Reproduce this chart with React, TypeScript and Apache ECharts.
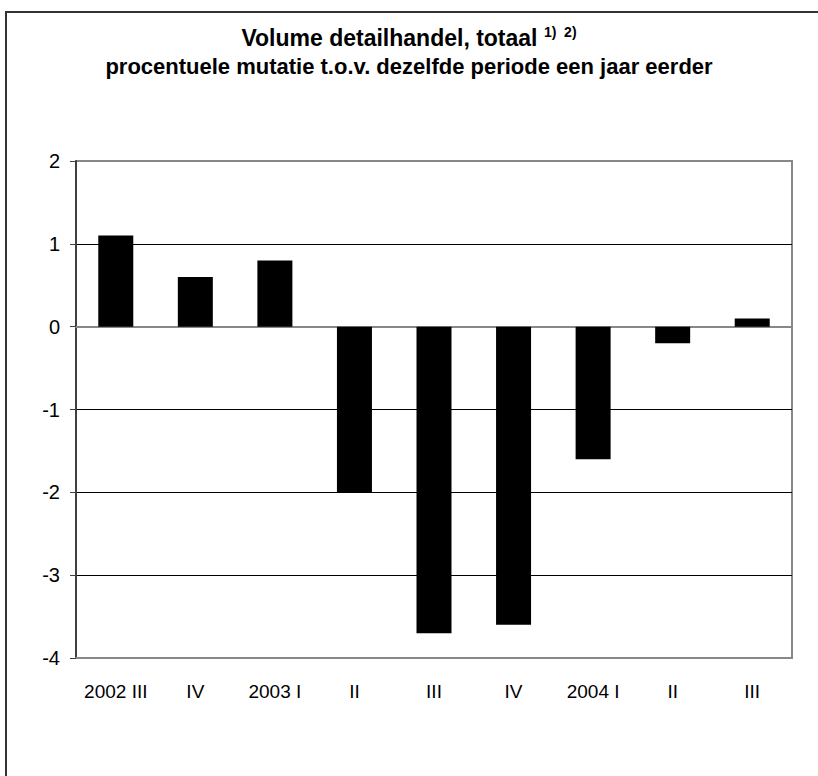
import React, { useEffect, useRef } from "react";
import * as echarts from "echarts";

const categories = ["2002 III", "IV", "2003 I", "II", "III", "IV", "2004 I", "II", "III"];
const values = [1.1, 0.6, 0.8, -2.0, -3.7, -3.6, -1.6, -0.2, 0.1];
const yMin = -4;
const yMax = 2;
const yInterval = 1;
const titleMain = "Volume detailhandel, totaal ";
const titleNotes = "1)  2)";
const subtitle = "procentuele mutatie t.o.v. dezelfde periode een jaar eerder";

const FONT = "'Liberation Sans', Arial, sans-serif";

export default function App() {
  const ref = useRef<HTMLDivElement>(null);
  useEffect(() => {
    if (!ref.current) return;
    const chart = echarts.init(ref.current, null, { renderer: "svg" });
    chart.setOption({
      animation: false,
      backgroundColor: "#ffffff",
      textStyle: { fontFamily: FONT },
      title: [
        {
          text: `{m|${titleMain}}{s|${titleNotes}}`,
          left: "center",
          top: 20,
          textStyle: {
            rich: {
              m: { fontFamily: FONT, fontWeight: "bold", fontSize: 23, color: "#000" },
              s: { fontFamily: FONT, fontWeight: "bold", fontSize: 14, color: "#000", verticalAlign: "top", padding: [0, 0, 12, 0] },
            },
          },
        },
        {
          text: subtitle,
          left: "center",
          top: 50,
          textStyle: { fontFamily: FONT, fontWeight: "bold", fontSize: 22, color: "#000" },
        },
      ],
      graphic: [
        {
          type: "rect",
          shape: { x: 6, y: 12, width: 900, height: 900 },
          style: { fill: "none", stroke: "#333", lineWidth: 2 },
          silent: true,
          z: 100,
        },
      ],
      grid: {
        left: 76,
        right: 26,
        top: 161,
        bottom: 118,
        show: true,
        borderColor: "#888",
        borderWidth: 2,
        backgroundColor: "transparent",
      },
      xAxis: [
        {
          type: "category",
          data: categories,
          position: "bottom",
          axisLine: { onZero: false, lineStyle: { color: "#888", width: 2 } },
          axisTick: { show: false },
          axisLabel: { color: "#000", fontSize: 19, fontFamily: FONT, margin: 24, interval: 0 },
          splitLine: { show: false },
        },
        {
          type: "category",
          data: categories,
          position: "bottom",
          axisLine: { onZero: true, lineStyle: { color: "#888", width: 2 } },
          axisTick: { show: false },
          axisLabel: { show: false },
          splitLine: { show: false },
        },
      ],
      yAxis: {
        type: "value",
        min: yMin,
        max: yMax,
        interval: yInterval,
        axisLine: { show: true, lineStyle: { color: "#404040", width: 2 } },
        axisTick: { show: true, inside: false, length: 6, lineStyle: { color: "#404040", width: 1 } },
        axisLabel: { color: "#000", fontSize: 20, fontFamily: FONT, margin: 16 },
        splitLine: {
          show: true,
          lineStyle: { color: ["#888", "#000", "#000", "#000", "#888", "#000", "#888"], width: 1 },
        },
      },
      series: [
        {
          type: "bar",
          data: values,
          barWidth: 35,
          itemStyle: { color: "#000" },
          xAxisIndex: 0,
        },
      ],
    });
    return () => chart.dispose();
  }, []);
  return (
    <div
      ref={ref}
      style={{ position: "fixed", left: 0, top: 0, width: 818, height: 776 }}
    />
  );
}
